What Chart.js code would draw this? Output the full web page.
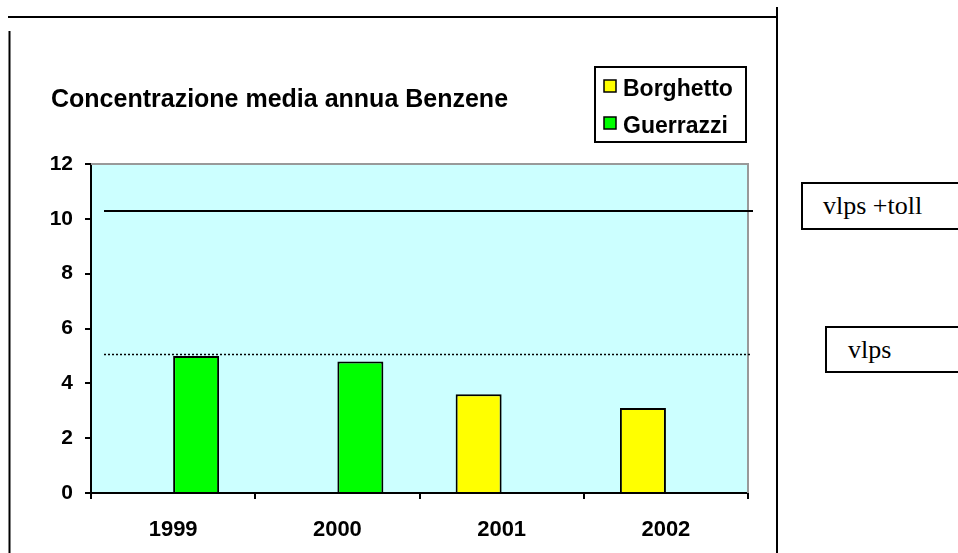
<!DOCTYPE html>
<html>
<head>
<meta charset="utf-8">
<script src="https://cdn.jsdelivr.net/npm/chart.js@4.4.1/dist/chart.umd.min.js"></script>
<style>
  html, body { margin: 0; padding: 0; background: #fff; overflow: hidden; }
  #wrap { position: relative; width: 958px; height: 553px; }
  canvas { position: absolute; left: 0; top: 0; }
  .note {
    position: absolute;
    box-sizing: border-box;
    border: 2px solid #000;
    background: #fff;
    font-family: "Liberation Serif", "Times New Roman", serif;
    font-size: 26px;
    color: #000;
    white-space: nowrap;
  }
</style>
</head>
<body>
<div id="wrap">
  <canvas id="benzeneChart" width="958" height="553"></canvas>
  <div class="note" style="left:801px; top:182px; width:200px; height:48px; line-height:44px; padding-left:20px;">vlps +toll</div>
  <div class="note" style="left:825px; top:326px; width:200px; height:47px; line-height:43px; padding-left:21px;">vlps</div>
</div>
<script>
// chart data
const years = ['1999', '2000', '2001', '2002'];
const seriesNames = ['Borghetto', 'Guerrazzi'];
const borghettoValues = [null, null, 3.6, 3.1];
const guerrazziValues = [5.0, 4.8, null, null];
const yTicks = [0, 2, 4, 6, 8, 10, 12];
const limitWithToll = 10.3;   // vlps +toll
const limitVlps = 5.08;       // vlps

const titleText = 'Concentrazione media annua Benzene';
const sansFont = 'Arial, "Liberation Sans", sans-serif';

// background, frame, reference lines, title and legend
const decorPlugin = {
    id: 'decor',
    beforeDraw(chart) {
        const ctx = chart.ctx;
        const area = chart.chartArea;
        ctx.save();
        ctx.fillStyle = '#fff';
        ctx.fillRect(0, 0, chart.width, chart.height);
        ctx.fillStyle = '#CCFFFF';
        ctx.fillRect(area.left, area.top, area.right - area.left, area.bottom - area.top);

        // page frame lines
        ctx.strokeStyle = '#000';
        ctx.lineWidth = 2;
        ctx.beginPath();
        ctx.moveTo(8, 17); ctx.lineTo(777, 17);
        ctx.moveTo(777, 7); ctx.lineTo(777, 553);
        ctx.moveTo(9.5, 31); ctx.lineTo(9.5, 553);
        ctx.stroke();
        ctx.restore();
    },
    afterDatasetsDraw(chart) {
        const ctx = chart.ctx;
        const area = chart.chartArea;
        const y = chart.scales.y;
        ctx.save();

        // plot area border (top / right)
        ctx.strokeStyle = '#999';
        ctx.lineWidth = 2;
        ctx.beginPath();
        ctx.moveTo(area.left, area.top);
        ctx.lineTo(area.right, area.top);
        ctx.lineTo(area.right, area.bottom);
        ctx.stroke();

        // limit lines
        ctx.strokeStyle = '#000';
        ctx.lineWidth = 2;
        ctx.beginPath();
        const yt = Math.round(y.getPixelForValue(limitWithToll));
        ctx.moveTo(104, yt); ctx.lineTo(753, yt);
        ctx.stroke();

        ctx.lineWidth = 1.5;
        ctx.setLineDash([2, 2]);
        ctx.beginPath();
        const yv = Math.round(y.getPixelForValue(limitVlps)) + 0.5;
        ctx.moveTo(104, yv); ctx.lineTo(751, yv);
        ctx.stroke();
        ctx.setLineDash([]);
        ctx.restore();
    },
    afterDraw(chart) {
        const ctx = chart.ctx;
        ctx.save();
        ctx.fillStyle = '#000';
        ctx.textBaseline = 'alphabetic';
        ctx.textAlign = 'left';
        ctx.font = 'bold 25px ' + sansFont;
        ctx.fillText(titleText, 51, 107);

        // legend box
        ctx.strokeStyle = '#000';
        ctx.lineWidth = 2;
        ctx.strokeRect(595, 67, 151, 75);
        ctx.font = 'bold 23px ' + sansFont;
        chart.data.datasets.forEach((ds, i) => {
            const top = 80 + i * 37;
            ctx.fillStyle = ds.backgroundColor;
            ctx.fillRect(604, top, 12, 12);
            ctx.lineWidth = 1.5;
            ctx.strokeRect(604, top, 12, 12);
            ctx.fillStyle = '#000';
            ctx.fillText(ds.label, 623, 96 + i * 37);
        });
        ctx.restore();
    }
};

Chart.defaults.font.family = sansFont;
Chart.defaults.color = '#000';

const ctx = document.getElementById('benzeneChart').getContext('2d');
new Chart(ctx, {
    type: 'bar',
    data: {
        labels: years,
        datasets: [
            {
                label: seriesNames[0],
                data: borghettoValues,
                backgroundColor: '#FFFF00',
                borderColor: '#000',
                borderWidth: 2,
                barPercentage: 1,
                categoryPercentage: 0.56
            },
            {
                label: seriesNames[1],
                data: guerrazziValues,
                backgroundColor: '#00FF00',
                borderColor: '#000',
                borderWidth: 2,
                barPercentage: 1,
                categoryPercentage: 0.56
            }
        ]
    },
    options: {
        responsive: false,
        animation: false,
        layout: { padding: { top: 164, left: 0, right: 210, bottom: 0 } },
        plugins: {
            legend: { display: false },
            title: { display: false },
            tooltip: { enabled: false }
        },
        scales: {
            x: {
                afterFit: scale => { scale.height = 60; },
                grid: { drawOnChartArea: false, drawTicks: true, tickLength: 6, color: '#000', lineWidth: 2 },
                border: { display: true, color: '#000', width: 2 },
                ticks: { font: { size: 22, weight: 'bold' }, padding: 18, color: '#000' }
            },
            y: {
                min: 0,
                max: 12,
                afterFit: scale => { scale.width = 91; },
                afterBuildTicks: scale => { scale.ticks = yTicks.map(v => ({ value: v })); },
                grid: { drawOnChartArea: false, drawTicks: true, tickLength: 6, color: '#000', lineWidth: 2 },
                border: { display: true, color: '#000', width: 2 },
                ticks: { font: { size: 21, weight: 'bold' }, padding: 12, color: '#000' }
            }
        }
    },
    plugins: [decorPlugin]
});
</script>
</body>
</html>
